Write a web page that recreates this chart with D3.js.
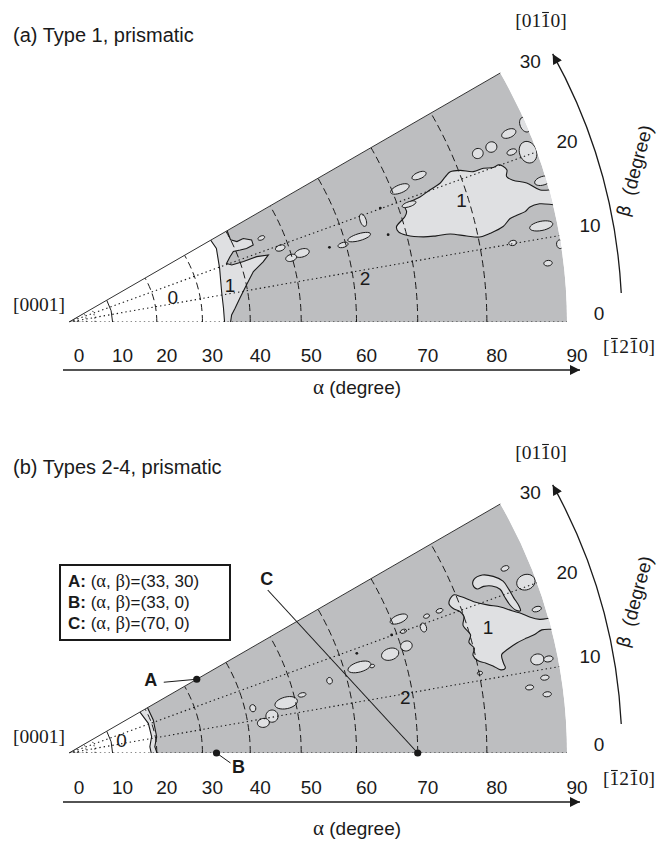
<!DOCTYPE html>
<html>
<head>
<meta charset="utf-8">
<title>Prismatic slip maps</title>
<script src="https://cdn.jsdelivr.net/npm/d3@7"></script>
<style>
body{margin:0;background:#fff;}
text{font-family:"Liberation Sans",Arial,Helvetica,sans-serif;fill:#1a1a1a;}
.serif{font-family:"Liberation Serif","Times New Roman",serif;}
</style>
</head>
<body>
<script>
// ---- axes / grid ----
var alphaTicks = [0,10,20,30,40,50,60,70,80,90];
var betaTicks  = [0,10,20,30];
var solidArcs  = [10];
var dashedArcs = [20,30,40,50,60,70,80];
var dottedArcs = [2,4,6];
var dottedRays = [0,10,20];

// ---- panel (a): contours as [alpha, beta] ----
var zeroA = [[34.8,-2],[34.6,5.1],[34.7,11.2],[35.6,19.6],[36.6,26.5],[36.3,32]];
var bandA = [[35.8,-2],[36.2,2.5],[37,4.7],[38.2,7.9],[40,11.8],[42,15.3],[44.4,17.2],[45.8,18.6],
             [43.5,19.2],[40.7,19.1],[38.2,19.3],[37.3,20.4],[38.5,22.1],[39.5,23.2],[40.9,22.8],
             [42.2,22.5],[43.7,22.7],[43.8,24.2],[42.4,25.6],[41,25.6],[40,27],[40.5,32],[30,32],[30,-2]];
var blobA1 = [[68.8,16.2],[70.5,17.4],[71,18.1],[71,18.9],[72,19.4],[73.6,19.6],[75.3,20.1],[77,20.5],
              [78,21.1],[78.9,21.5],[80.2,21.2],[81.8,20.4],[83.2,20.35],[84.4,20.0],[85.1,20.1],
              [85.6,19.75],[85.9,19.15],[85.6,18.4],[86.2,17.7],[87.7,16.9],[89,15.65],[91,15],
              [91,13.5],[88.5,14.1],[87.3,14.0],[86.6,13.6],[85.5,13.4],[84.6,13.2],[83.5,12.4],
              [81.7,11.9],[80.2,11.7],[78.5,12.2],[76.3,13.0],[74.3,13.2],[72.4,13.5],[70,14.4],[68.9,15.3]];
// small islands: [alpha, beta, half-width alpha, half-width beta]
var smallA = [[87.7,23.2,0.9,0.5],[83.2,22.4,0.7,0.65],[85.1,22.5,0.7,0.65],[89,20.3,1.0,1.3],
              [89.9,23.4,0.6,0.9],[87.2,21.0,0.6,0.35],[89.6,16.6,1.0,0.5],[88.1,11.5,1.4,0.55],
              [84.3,10.1,0.5,0.33],[88.2,7.0,0.5,0.33],[89.9,9.0,0.4,0.5],[71.2,21.9,1.5,0.65],
              [74.6,22.7,1.1,0.5],[71.7,19.1,1.1,0.4],[64,19.1,0.5,1.2],[62.5,16.3,2,0.66],
              [59.5,15.7,0.9,0.5],[52,16.5,1.4,0.95],[49.8,16.1,1.05,0.85],[48.4,19.3,0.95,0.75],
              [45.7,23.6,0.7,0.55]];
var dotsA = [[67.3,20.1],[67.2,15.3],[57.1,16.0]];
var labelsA = [["0",24.2,13.5],["1",36.7,12.9],["2",62,8.4],["1",79.1,17.3]];

// ---- panel (b) ----
var zeroB = [[18.9,-2],[18.5,4.5],[19.2,11.2],[19.3,20.5],[18.6,32]];
var bandB = [[20.3,-2],[19.6,4.2],[20.3,10.5],[20.6,21.4],[20.7,32],[15,32],[15,-2]];
var blobB1 = [[79.7,22.35],[80.6,21.7],[81.9,20.5],[83.4,19.5],[84.9,18.7],[86.1,17.8],[87.1,17.15],
              [88,16.4],[89,15.85],[91,15.4],[91,14.3],[88.9,14.6],[88,14.3],[86.9,14.1],[85.6,13.8],
              [84.3,13.3],[83.4,12.8],[83.4,11.7],[83.5,11.0],[82.9,10.9],[82.0,11.6],[81.1,12.2],
              [80.2,12.7],[79.7,13.6],[80.1,14.5],[79.6,15.45],[80.1,16.4],[79.5,17.9],[80,19.1],
              [79.7,19.9],[79,20.6],[78.7,21.5]];
var blobB2 = [[83,23.2],[84.2,23.3],[85.4,22.6],[86.3,21.6],[86.6,20.4],[86.8,19.3],[87.1,18.1],
              [87.1,17.5],[86.6,17.7],[86.1,18.55],[85.8,19.7],[85.6,20.8],[84.8,21.55],[83.8,21.9],
              [82.9,21.9],[82.6,22.6]];
var smallB = [[88.8,20.5,1.1,0.9],[87.1,22.95,0.5,0.3],[89,17.1,0.55,0.3],[77.1,21.0,0.5,0.3],
              [75.1,20.95,0.45,0.3],[74.1,19.5,0.45,0.7],[87.6,11.3,0.8,0.65],[88.9,11.1,0.55,0.35],
              [88.1,9.0,0.5,0.3],[86.1,8.1,0.5,0.3],[88.1,7.0,0.5,0.3],[80.1,11.0,0.35,0.25],
              [71.1,22.1,1.4,0.65],[68,17.1,1.4,1.0],[70.8,17.6,0.9,0.8],[62.6,16.5,2.0,0.95],
              [64.7,16.0,0.4,0.3],[57,15.5,0.5,0.7],[71.1,20.0,0.5,0.3],[48.2,13.0,2.2,1.5],
              [51.5,14.0,0.75,0.5],[41.6,13.7,0.6,1.1],[45,10.3,1.2,1.7],[43.1,8.8,1.2,1.3]];
var dotsB = [[69.2,20.1],[62.9,19.1]];
var labelsB = [["0",12.4,13.9],["2",68.8,9.5],["1",82.6,16.75]];

// marked orientations in (b)
var markNames = ["A","B","C"];
var markAlpha = [33,33,70];
var markBeta  = [30,0,0];

var titles = ["(a) Type 1, prismatic","(b) Types 2-4, prismatic"];

var DARK="#bdbec0", LIGHT="#dfe0e2", INK="#1a1a1a";
var R=498, CX=69;

var svg = d3.select("body").append("svg").attr("width",668).attr("height",841);
var defs = svg.append("defs");
defs.append("marker").attr("id","arr").attr("viewBox","0 0 10 10").attr("refX",10).attr("refY",5)
    .attr("markerUnits","userSpaceOnUse").attr("markerWidth",15).attr("markerHeight",10).attr("orient","auto")
    .append("path").attr("d","M0,0L10,5L0,10Z").attr("fill",INK);

// stereographic radius: r = R tan(alpha/2)
var rScale = d3.scaleLinear().domain([0,1]).range([0,R]);
function rad(a){ return rScale(Math.tan(a*Math.PI/360)); }
var bScale = d3.scaleLinear().domain([0,30]).range([0,Math.PI/6]);

function ellipse(e){
    return d3.range(14).map(function(i){
        var t=i/14*2*Math.PI;
        return [e[0]+e[2]*Math.cos(t), e[1]+e[3]*Math.sin(t)];
    });
}

function miller(g,str,bars,x,y,anchor){
    var t = g.append("text").attr("class","serif").attr("x",x).attr("y",y)
             .attr("text-anchor",anchor).attr("font-size",19.5).text(str);
    bars.forEach(function(i){
        var s=t.node().getStartPositionOfChar(i), e=t.node().getEndPositionOfChar(i);
        g.append("line").attr("x1",s.x+1.5).attr("x2",e.x-1.5).attr("y1",y-14.5).attr("y2",y-14.5)
         .attr("stroke",INK).attr("stroke-width",1.1);
    });
}

var panels = [
    {id:"a", cy:322, ty:0,   alphaLab:394, zero:zeroA, band:bandA, blobs:[blobA1], small:smallA, dots:dotsA, labels:labelsA},
    {id:"b", cy:753, ty:432, alphaLab:835, zero:zeroB, band:bandB, blobs:[blobB1,blobB2], small:smallB, dots:dotsB, labels:labelsB}
];

function drawPanel(P, k){
    var cy=P.cy, ty=P.ty;
    var g = svg.append("g");
    function xy(a,b){ var r=rad(a), t=bScale(b); return [CX+r*Math.cos(t), cy-r*Math.sin(t)]; }
    function arc(r,b0,b1){
        var t0=bScale(b0), t1=bScale(b1);
        return "M"+(CX+r*Math.cos(t0))+","+(cy-r*Math.sin(t0))+"A"+r+","+r+" 0 0 0 "+(CX+r*Math.cos(t1))+","+(cy-r*Math.sin(t1));
    }
    var lin = d3.line().x(function(d){return xy(d[0],d[1])[0];}).y(function(d){return xy(d[0],d[1])[1];}).curve(d3.curveLinearClosed);
    var smooth = d3.line().x(function(d){return xy(d[0],d[1])[0];}).y(function(d){return xy(d[0],d[1])[1];}).curve(d3.curveCatmullRomClosed);

    var wedge = "M"+CX+","+cy+"L"+xy(90,0)+arc(R,0,30).replace(/^M[^A]*/,"")+"Z";
    defs.append("clipPath").attr("id","clip"+P.id).append("path").attr("d",wedge);
    var c = g.append("g").attr("clip-path","url(#clip"+P.id+")");
    c.append("path").attr("d",wedge).attr("fill",DARK);

    // light band and white core
    c.append("path").datum(P.band).attr("d",lin).attr("fill",LIGHT).attr("stroke",INK).attr("stroke-width",1.1);
    c.append("path").datum([[0,0]].concat(P.zero)).attr("d",lin).attr("fill","#fff").attr("stroke",INK).attr("stroke-width",1.1);

    // islands
    P.blobs.forEach(function(b){
        c.append("path").datum(b).attr("d",smooth).attr("fill",LIGHT).attr("stroke",INK).attr("stroke-width",1.1);
    });
    c.selectAll("path.isl").data(P.small).enter().append("path").attr("class","isl")
        .attr("d",function(d){return smooth(ellipse(d));})
        .attr("fill",LIGHT).attr("stroke",INK).attr("stroke-width",1);
    c.selectAll("circle.dot").data(P.dots).enter().append("circle").attr("class","dot")
        .attr("cx",function(d){return xy(d[0],d[1])[0];}).attr("cy",function(d){return xy(d[0],d[1])[1];})
        .attr("r",1.4).attr("fill",INK);

    // grid
    c.selectAll("line.ray").data(dottedRays).enter().append("line").attr("class","ray")
        .attr("x1",CX).attr("y1",cy)
        .attr("x2",function(b){return xy(90,b)[0];}).attr("y2",function(b){return xy(90,b)[1];})
        .attr("stroke",INK).attr("stroke-width",1.1).attr("stroke-dasharray","1.4,3");
    c.selectAll("path.da").data(dashedArcs).enter().append("path").attr("class","da")
        .attr("d",function(a){return arc(rad(a),0,30);})
        .attr("fill","none").attr("stroke",INK).attr("stroke-width",1).attr("stroke-dasharray","7,4");
    c.selectAll("path.sa").data(solidArcs).enter().append("path").attr("class","sa")
        .attr("d",function(a){return arc(rad(a),0,30);})
        .attr("fill","none").attr("stroke",INK).attr("stroke-width",1);
    c.selectAll("path.fa").data(dottedArcs).enter().append("path").attr("class","fa")
        .attr("d",function(a){return arc(rad(a),0,30);})
        .attr("fill","none").attr("stroke",INK).attr("stroke-width",1).attr("stroke-dasharray","1.2,2.2");

    // top edge
    g.append("line").attr("x1",CX).attr("y1",cy).attr("x2",xy(90,30)[0]).attr("y2",xy(90,30)[1])
        .attr("stroke","#333").attr("stroke-width",1);

    // region numbers
    g.selectAll("text.reg").data(P.labels).enter().append("text").attr("class","reg")
        .attr("x",function(d){return xy(d[1],d[2])[0];}).attr("y",function(d){return xy(d[1],d[2])[1];})
        .attr("dy","0.36em").attr("text-anchor","middle").attr("font-size",19).text(function(d){return d[0];});

    // alpha axis
    g.selectAll("text.at").data(alphaTicks).enter().append("text").attr("class","at")
        .attr("x",function(a){return CX+rad(a)+10;}).attr("y",362+ty)
        .attr("text-anchor","middle").attr("font-size",19).text(function(a){return a;});
    g.append("line").attr("x1",63).attr("x2",580).attr("y1",370+ty).attr("y2",370+ty)
        .attr("stroke",INK).attr("stroke-width",1.3).attr("marker-end","url(#arr)");
    var al = g.append("text").attr("x",357).attr("y",P.alphaLab).attr("text-anchor","middle").attr("font-size",19);
    al.append("tspan").attr("class","serif").attr("font-size",21).text("\u03b1");
    al.append("tspan").text(" (degree)");

    // beta axis
    var rb = R+55;
    g.append("path").attr("d",arc(rb,3,29)).attr("fill","none").attr("stroke",INK).attr("stroke-width",1.3)
        .attr("marker-end","url(#arr)");
    g.selectAll("text.bt").data(betaTicks).enter().append("text").attr("class","bt")
        .attr("x",function(b){return CX+(R+32)*Math.cos(bScale(1+b*0.95));})
        .attr("y",function(b){return cy-(R+32)*Math.sin(bScale(1+b*0.95));})
        .attr("dy","0.36em").attr("text-anchor","middle").attr("font-size",19).text(function(b){return b;});
    var bl = [CX+(R+87)*Math.cos(bScale(15)), cy-(R+87)*Math.sin(bScale(15))];
    var btx = g.append("text").attr("transform","translate("+bl[0]+","+bl[1]+") rotate(-75)")
        .attr("text-anchor","middle").attr("dy","0.36em").attr("font-size",19).style("white-space","pre");
    btx.append("tspan").attr("font-family","DejaVu Sans").attr("font-size",18).text("\u03b2");
    btx.append("tspan").text("  (degree)");

    // title and zone axes
    g.append("text").attr("x",13).attr("y",42+ty).attr("font-size",20).text(titles[k]);
    miller(g,"[0001]",[],13,311+ty,"start");
    miller(g,"[0110]",[3],541,27+ty,"middle");
    miller(g,"[1210]",[1,3],629,353+ty,"middle");
    return xy;
}

drawPanel(panels[0],0);
var xyB = drawPanel(panels[1],1);

// marked orientations A, B, C
var mk = svg.append("g");
var mp = markNames.map(function(n,i){ return xyB(markAlpha[i],markBeta[i]); });
mk.append("line").attr("x1",mp[0][0]-33).attr("y1",mp[0][1]+3).attr("x2",mp[0][0]).attr("y2",mp[0][1])
  .attr("stroke",INK).attr("stroke-width",1);
mk.append("line").attr("x1",mp[1][0]).attr("y1",mp[1][1]).attr("x2",mp[1][0]+14).attr("y2",mp[1][1]+10)
  .attr("stroke",INK).attr("stroke-width",1);
mk.append("line").attr("x1",mp[2][0]-150).attr("y1",mp[2][1]-163).attr("x2",mp[2][0]).attr("y2",mp[2][1])
  .attr("stroke",INK).attr("stroke-width",1.1);
mk.selectAll("circle").data(mp).enter().append("circle")
  .attr("cx",function(d){return d[0];}).attr("cy",function(d){return d[1];}).attr("r",3.6).attr("fill",INK);
var labOff = [[-46,7],[22,20],[-151,-168]];
mk.selectAll("text").data(markNames).enter().append("text")
  .attr("x",function(d,i){return mp[i][0]+labOff[i][0];}).attr("y",function(d,i){return mp[i][1]+labOff[i][1];})
  .attr("text-anchor","middle").attr("font-size",18).attr("font-weight","bold").text(function(d){return d;});

// legend box
var lg = svg.append("g");
lg.append("rect").attr("x",60).attr("y",565).attr("width",170).attr("height",75)
  .attr("fill","#fff").attr("stroke",INK).attr("stroke-width",2);
markNames.forEach(function(n,i){
    var t = lg.append("text").attr("x",68).attr("y",587+i*21).attr("font-size",17).style("white-space","pre");
    t.append("tspan").attr("font-weight","bold").text(n+":");
    t.append("tspan").text(" (");
    t.append("tspan").attr("class","serif").attr("font-size",18.5).text("\u03b1");
    t.append("tspan").text(", ");
    t.append("tspan").attr("class","serif").attr("font-size",18.5).text("\u03b2");
    t.append("tspan").text(")=("+markAlpha[i]+", "+markBeta[i]+")");
});
</script>
</body>
</html>
